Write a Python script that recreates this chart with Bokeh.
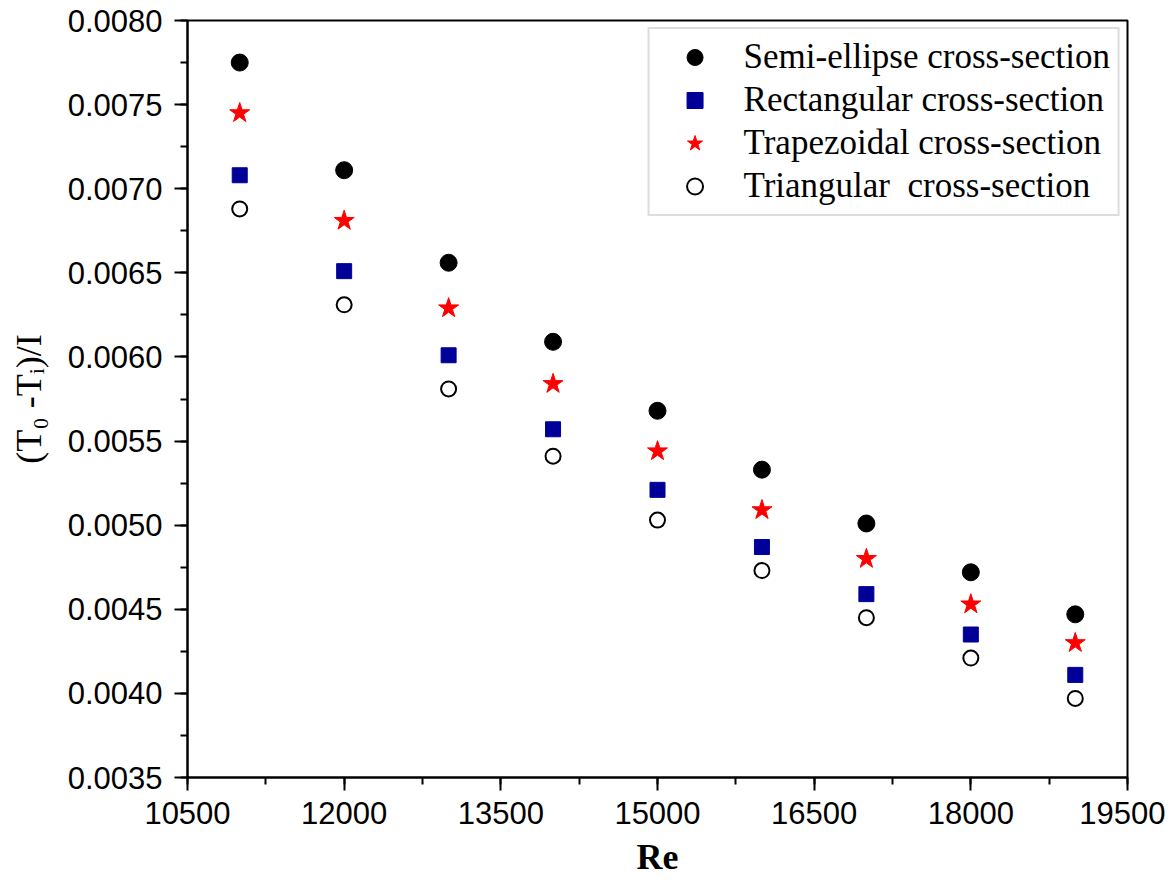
from bokeh.plotting import figure
from bokeh.models import Range1d, SingleIntervalTicker, NumeralTickFormatter, Legend, LegendItem
from bokeh.embed import file_html
from bokeh.resources import INLINE

re_vals = [11000, 12000, 13000, 14000, 15000, 16000, 17000, 18000, 19000]
semi_ellipse = [0.00775, 0.00711, 0.00656, 0.00609, 0.00568, 0.00533, 0.00501, 0.00472, 0.00447]
rectangular = [0.00708, 0.00651, 0.00601, 0.00557, 0.00521, 0.00487, 0.00459, 0.00435, 0.00411]
trapezoidal = [0.00745, 0.00681, 0.00629, 0.00584, 0.00544, 0.00509, 0.00480, 0.00453, 0.00430]
triangular = [0.00688, 0.00631, 0.00581, 0.00541, 0.00503, 0.00473, 0.00445, 0.00421, 0.00397]

p = figure(width=1165, height=888, output_backend="svg", toolbar_location=None,
           x_range=Range1d(10500, 19500), y_range=Range1d(0.0035, 0.0080),
           min_border_left=187, min_border_right=38, min_border_top=20, min_border_bottom=111)
p.grid.visible = False
p.outline_line_color = "black"
p.outline_line_width = 2

p.xaxis.ticker = SingleIntervalTicker(interval=1500, num_minor_ticks=2)
p.yaxis.ticker = SingleIntervalTicker(interval=0.0005, num_minor_ticks=2)
p.yaxis.formatter = NumeralTickFormatter(format="0.0000")
for ax in (p.xaxis, p.yaxis):
    ax.axis_line_width = 2
    ax.major_tick_line_width = 2
    ax.minor_tick_line_width = 2
    ax.major_tick_out = 13
    ax.major_tick_in = 0
    ax.minor_tick_out = 7
    ax.minor_tick_in = 0
    ax.major_label_text_font = "Liberation Sans"
    ax.major_label_text_font_style = "normal"
    ax.major_label_text_font_size = "31px"
    ax.major_label_text_color = "black"
    ax.axis_label_text_font = "Liberation Serif"
    ax.axis_label_text_color = "black"
p.xaxis.axis_label = "Re"
p.xaxis.axis_label_text_font_style = "bold"
p.xaxis.axis_label_text_font_size = "36px"
p.yaxis.axis_label = "(T\u2080 -T\u1d62)/I"
p.yaxis.axis_label_text_font_style = "normal"
p.yaxis.axis_label_text_font_size = "36px"
p.xaxis.major_label_standoff = 11
p.xaxis.axis_label_standoff = 10
p.yaxis.major_label_standoff = 12
p.yaxis.axis_label_standoff = 16

r1 = p.scatter(re_vals, semi_ellipse, marker="circle", size=17, fill_color="black", line_color="black")
r2 = p.scatter(re_vals, rectangular, marker="square", size=15, fill_color="#000099", line_color="#000099")
r3 = p.scatter(re_vals, trapezoidal, marker="star", size=21, fill_color="red", line_color="red")
r4 = p.scatter(re_vals, triangular, marker="circle", size=15, fill_color="white", line_color="black", line_width=2)

legend = Legend(items=[
    LegendItem(label="Semi-ellipse cross-section", renderers=[r1]),
    LegendItem(label="Rectangular cross-section", renderers=[r2]),
    LegendItem(label="Trapezoidal cross-section", renderers=[r3]),
    LegendItem(label="Triangular  cross-section", renderers=[r4]),
], location="top_right")
legend.label_text_font = "Liberation Serif"
legend.label_text_font_size = "35px"
legend.label_text_color = "black"
legend.border_line_color = "#bbbbbb"
legend.border_line_width = 2
legend.margin = 7
legend.padding = 8
legend.spacing = 3
legend.label_height = 40
legend.glyph_height = 40
legend.glyph_width = 74
legend.label_standoff = 12
p.add_layout(legend)

open("out.html", "w").write(file_html(p, INLINE))
